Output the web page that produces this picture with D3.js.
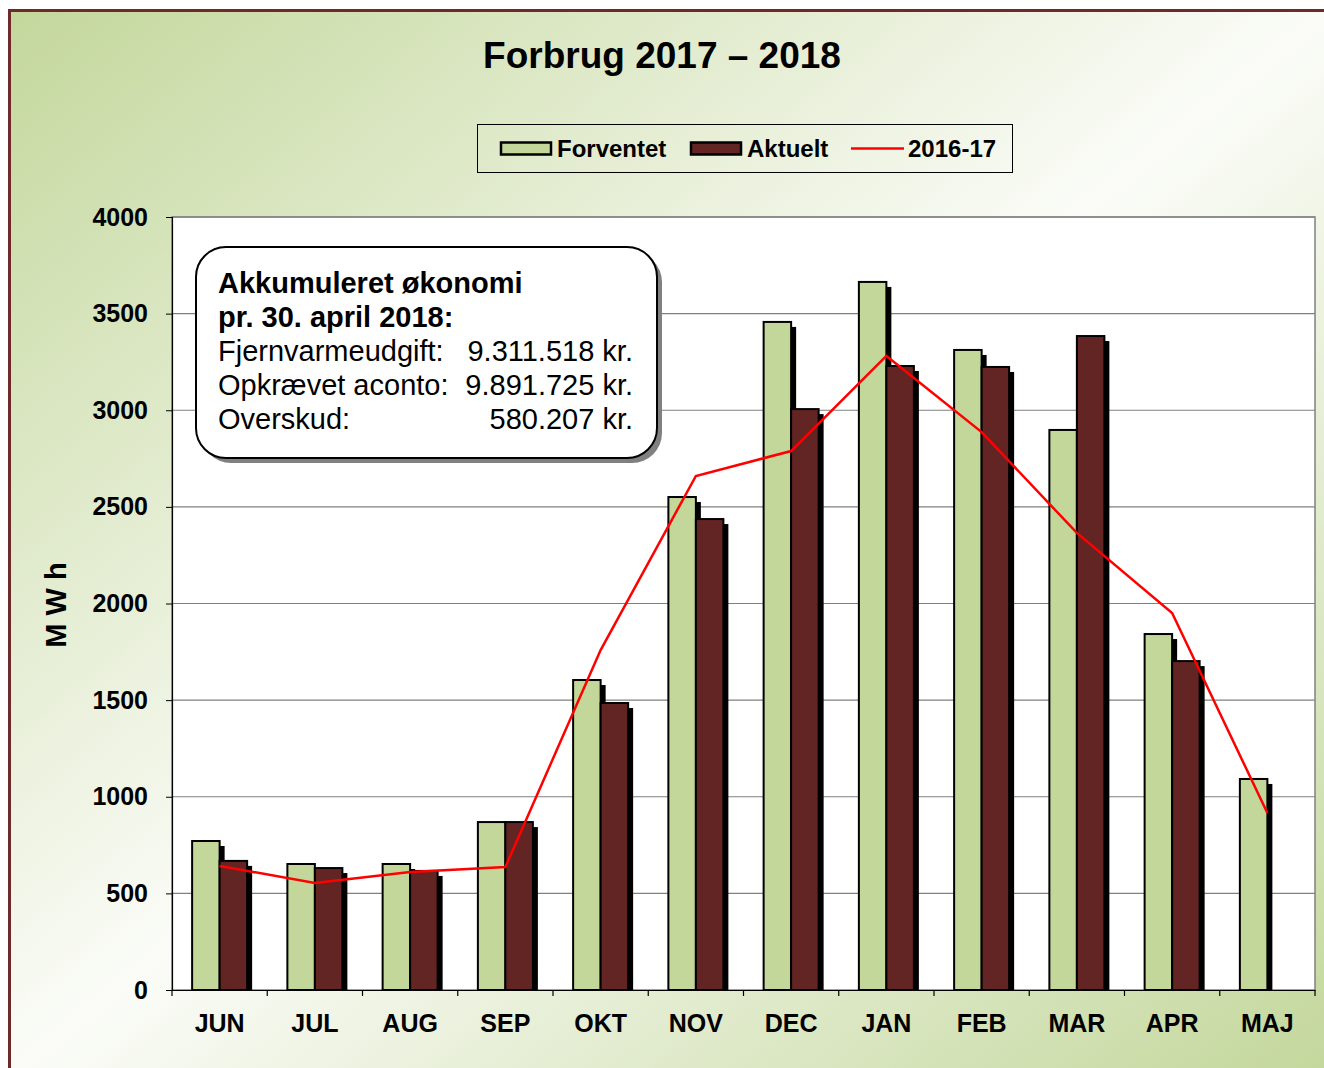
<!DOCTYPE html>
<html>
<head>
<meta charset="utf-8">
<script src="https://cdn.jsdelivr.net/npm/d3@7"></script>
<style>
  body { margin: 0; background: #fff; }
  svg { display: block; font-family: "Liberation Sans", Arial, sans-serif; }
</style>
</head>
<body>
<div id="chart"></div>
<script>
const months = ["JUN", "JUL", "AUG", "SEP", "OKT", "NOV", "DEC", "JAN", "FEB", "MAR", "APR", "MAJ"];
const forventet = [771, 652, 652, 869, 1604, 2551, 3457, 3664, 3312, 2898, 1842, 1092];
const aktuelt = [668, 631, 616, 869, 1485, 2437, 3006, 3229, 3224, 3384, 1702, null];
const prev = [642, 554, 610, 636, 1759, 2660, 2789, 3281, 2887, 2365, 1951, 916];
const yTicks = [0, 500, 1000, 1500, 2000, 2500, 3000, 3500, 4000];
const infoLines = [
    ["Fjernvarmeudgift:", "9.311.518 kr."],
    ["Opkrævet aconto:", "9.891.725 kr."],
    ["Overskud:", "580.207 kr."]
];

const W = 1324, H = 1068;
const plot = {left: 172, right: 1315, top: 217, bottom: 990};
const green = "#c4d79b", maroon = "#632523";
const FONT = "Liberation Sans, Arial, sans-serif";

const svg = d3.select("#chart").append("svg").attr("width", W).attr("height", H);

// background gradient + frame
const defs = svg.append("defs");
const grad = defs.append("linearGradient").attr("id", "bg")
    .attr("x1", "0").attr("y1", "0").attr("x2", "1").attr("y2", "1");
grad.append("stop").attr("offset", "0").attr("stop-color", "#c3d79b");
grad.append("stop").attr("offset", "0.5").attr("stop-color", "#fbfcf8");
grad.append("stop").attr("offset", "1").attr("stop-color", "#c3d79b");

svg.append("rect").attr("x", 8).attr("y", 9).attr("width", W).attr("height", H)
    .attr("fill", "url(#bg)");
svg.append("path").attr("d", `M9.5,${H} V10.5 H${W}`)
    .attr("fill", "none").attr("stroke", "#6e2a2a").attr("stroke-width", 3);

// title
svg.append("text").attr("x", 662).attr("y", 68).attr("text-anchor", "middle")
    .attr("font-size", 37).attr("font-weight", "bold").text("Forbrug 2017 – 2018");

// scales
const x = d3.scaleBand().domain(months).range([plot.left, plot.right]);
const y = d3.scaleLinear().domain([0, 4000]).range([plot.bottom, plot.top]);
const barW = 27.5;

// plot area
svg.append("rect").attr("x", plot.left).attr("y", plot.top)
    .attr("width", plot.right - plot.left).attr("height", plot.bottom - plot.top)
    .attr("fill", "#fff").attr("stroke", "#808080").attr("stroke-width", 1.5);

svg.append("g").selectAll("line").data(yTicks.slice(1)).join("line")
    .attr("x1", plot.left).attr("x2", plot.right)
    .attr("y1", d => y(d)).attr("y2", d => y(d))
    .attr("stroke", "#808080").attr("stroke-width", 1.2);

// y axis
const yAxis = svg.append("g").attr("transform", `translate(${plot.left},0)`)
    .call(d3.axisLeft(y).tickValues(yTicks).tickFormat(d3.format("d")).tickSize(6).tickPadding(18));
yAxis.select(".domain").attr("stroke", "#000").attr("stroke-width", 1.2);
yAxis.selectAll("text").attr("font-size", 25).attr("font-weight", "bold")
    .attr("font-family", FONT).attr("fill", "#000");

// x axis
const xAxis = svg.append("g").attr("transform", `translate(0,${plot.bottom})`)
    .call(d3.axisBottom(x).tickSize(0).tickPadding(24));
xAxis.select(".domain").attr("stroke", "#000").attr("stroke-width", 1.2);
xAxis.selectAll("text").attr("font-size", 25).attr("font-weight", "bold")
    .attr("font-family", FONT).attr("fill", "#000");
svg.append("g").selectAll("line").data(d3.range(months.length + 1)).join("line")
    .attr("x1", i => plot.left + i * x.step()).attr("x2", i => plot.left + i * x.step())
    .attr("y1", plot.bottom).attr("y2", plot.bottom + 6)
    .attr("stroke", "#000").attr("stroke-width", 1.2);

svg.append("text").attr("transform", "translate(66,605) rotate(-90)")
    .attr("text-anchor", "middle").attr("font-size", 29).attr("font-weight", "bold")
    .text("M W h");

// bars with drop shadow
const series = [
    {values: forventet, color: green, off: -barW},
    {values: aktuelt, color: maroon, off: 0}
];
const bars = svg.append("g");
series.forEach(s => {
    const g = bars.append("g");
    const data = months.map((m, i) => ({m, v: s.values[i]})).filter(d => d.v != null);
    g.selectAll(".shadow").data(data).join("rect").attr("class", "shadow")
        .attr("x", d => x(d.m) + x.bandwidth() / 2 + s.off + 5)
        .attr("y", d => y(d.v) + 5)
        .attr("width", barW).attr("height", d => plot.bottom - y(d.v) - 4)
        .attr("fill", "#000");
    g.selectAll(".bar").data(data).join("rect").attr("class", "bar")
        .attr("x", d => x(d.m) + x.bandwidth() / 2 + s.off)
        .attr("y", d => y(d.v))
        .attr("width", barW).attr("height", d => plot.bottom - y(d.v))
        .attr("fill", s.color).attr("stroke", "#000").attr("stroke-width", 2);
});

// 2016-17 line
const line = d3.line().x((d, i) => x(months[i]) + x.bandwidth() / 2).y(d => y(d));
svg.append("path").datum(prev).attr("d", line)
    .attr("fill", "none").attr("stroke", "#ff0000").attr("stroke-width", 2.5);

// legend
const leg = svg.append("g");
leg.append("rect").attr("x", 477.5).attr("y", 124.5).attr("width", 535).attr("height", 48)
    .attr("fill", "none").attr("stroke", "#000").attr("stroke-width", 1);
const legItems = [
    {label: "Forventet", x: 500, type: "rect", color: green},
    {label: "Aktuelt", x: 690, type: "rect", color: maroon},
    {label: "2016-17", x: 851, type: "line", color: "#ff0000"}
];
legItems.forEach(d => {
    if (d.type === "rect") {
        leg.append("rect").attr("x", d.x + 1).attr("y", 142.5).attr("width", 50).attr("height", 12)
            .attr("fill", d.color).attr("stroke", "#000").attr("stroke-width", 2.5);
    } else {
        leg.append("line").attr("x1", d.x).attr("x2", d.x + 53).attr("y1", 148.5).attr("y2", 148.5)
            .attr("stroke", d.color).attr("stroke-width", 2.5);
    }
    leg.append("text").attr("x", d.x + 57).attr("y", 157).attr("font-size", 24)
        .attr("font-weight", "bold").text(d.label);
});

// info box
const box = svg.append("g");
box.append("rect").attr("x", 201).attr("y", 252).attr("width", 461).attr("height", 211)
    .attr("rx", 30).attr("fill", "#808080");
box.append("rect").attr("x", 196).attr("y", 247).attr("width", 461).attr("height", 211)
    .attr("rx", 30).attr("fill", "#fff").attr("stroke", "#000").attr("stroke-width", 2);
box.append("text").attr("x", 218).attr("y", 293).attr("font-size", 29).attr("font-weight", "bold")
    .text("Akkumuleret økonomi");
box.append("text").attr("x", 218).attr("y", 327).attr("font-size", 29).attr("font-weight", "bold")
    .text("pr. 30. april 2018:");
infoLines.forEach((d, i) => {
    box.append("text").attr("x", 218).attr("y", 361 + i * 34).attr("font-size", 29).text(d[0]);
    box.append("text").attr("x", 633).attr("y", 361 + i * 34).attr("font-size", 29)
        .attr("text-anchor", "end").text(d[1]);
});
</script>
</body>
</html>
